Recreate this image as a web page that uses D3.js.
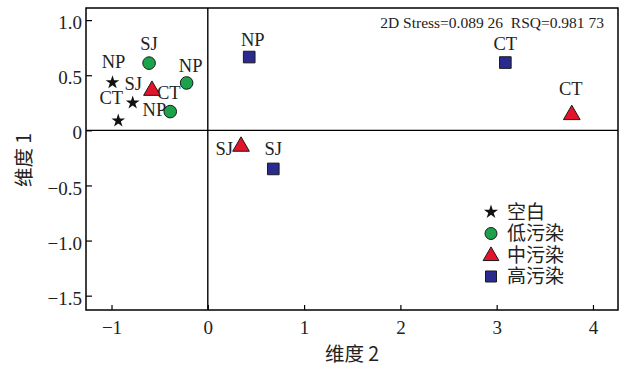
<!DOCTYPE html>
<html><head><meta charset="utf-8">
<script src="https://cdn.jsdelivr.net/npm/d3@7"></script>
<style>body{margin:0;background:#fff}svg{display:block}</style>
</head><body>
<svg id="c" width="622" height="367"></svg>
<script>
// ---- data ----
const groups = ["空白", "低污染", "中污染", "高污染"];
const blankPts = [ {label:"NP", x:-0.99, y:0.435}, {label:"SJ", x:-0.78, y:0.25}, {label:"CT", x:-0.93, y:0.087} ];
const lowPts   = [ {label:"SJ", x:-0.61, y:0.61}, {label:"NP", x:-0.22, y:0.43}, {label:"NP", x:-0.39, y:0.17} ];
const midPts   = [ {label:"CT", x:-0.58, y:0.37}, {label:"SJ", x:0.345, y:-0.137}, {label:"CT", x:3.78, y:0.15} ];
const highPts  = [ {label:"NP", x:0.43, y:0.665}, {label:"SJ", x:0.68, y:-0.35}, {label:"CT", x:3.09, y:0.615} ];
const xTicks = [-1, 0, 1, 2, 3, 4];
const xTickLabels = ["−1", "0", "1", "2", "3", "4"];
const yTicks = [1.0, 0.5, 0, -0.5, -1.0, -1.5];
const yTickLabels = ["1.0", "0.5", "0", "−0.5", "−1.0", "−1.5"];
const statsText = "2D Stress=0.089 26  RSQ=0.981 73";
const xTitle = "维度 2", yTitle = "维度 1";

// ---- layout / style ----
const L = 86, R = 618, T = 8, B = 310;
const x = d3.scaleLinear().domain([-1.265, 4.26]).range([L, R]);
const y = d3.scaleLinear().domain([-1.63, 1.11]).range([B, T]);
// label placements per point (anchor, dx, dy in px) — style, not data
const place = {
  blank: [["middle", 1, -14], ["middle", 0.5, -13], ["middle", -7, -17]],
  low:   [["middle", 0, -13.5], ["middle", 4, -11], ["end", -4, 4]],
  mid:   [["start", 5, 9], ["end", -8, 9.5], ["middle", -1, -19]],
  high:  [["middle", 3.5, -11.5], ["middle", 0, -14], ["middle", 0, -13]]
};
const serif = "'Liberation Serif', 'Times New Roman', 'DejaVu Serif', serif";
const cjk = "'Noto Sans CJK SC', 'Noto Sans', sans-serif";

const svg = d3.select("#c");

// zero lines
svg.append("line").attr("x1", x(0)).attr("x2", x(0)).attr("y1", T).attr("y2", B)
  .attr("stroke", "#000").attr("stroke-width", 1.4);
svg.append("line").attr("x1", L).attr("x2", R).attr("y1", y(0)).attr("y2", y(0))
  .attr("stroke", "#000").attr("stroke-width", 1.4);

// axes (ticks inward)
const xAxis = d3.axisBottom(x).tickValues(xTicks).tickSize(-5).tickPadding(11)
  .tickFormat((d, i) => xTickLabels[i]);
const gx = svg.append("g").attr("transform", `translate(0,${B})`).call(xAxis);
const yAxis = d3.axisLeft(y).tickValues(yTicks).tickSize(-6).tickPadding(4)
  .tickFormat((d, i) => yTickLabels[i]);
const gy = svg.append("g").attr("transform", `translate(${L},0)`).call(yAxis);
[gx, gy].forEach(g => {
  g.attr("font-family", serif).attr("font-size", 19);
  g.select(".domain").remove();
  g.selectAll(".tick line").attr("stroke", "#000").attr("stroke-width", 1.2);
  g.selectAll(".tick text").attr("fill", "#222").attr("font-family", serif).attr("font-size", 19);
});
gy.selectAll(".tick text").attr("dy", "0.45em");

// frame
svg.append("rect").attr("x", L).attr("y", T).attr("width", R - L).attr("height", B - T)
  .attr("fill", "none").attr("stroke", "#000").attr("stroke-width", 1.5);

// axis titles
svg.append("text").attr("x", (L + R) / 2).attr("y", 361).attr("text-anchor", "middle")
  .attr("font-family", cjk).attr("font-size", 19.5).attr("fill", "#222").text(xTitle);
svg.append("text").attr("transform", "translate(31,160) rotate(-90)").attr("text-anchor", "middle")
  .attr("font-family", cjk).attr("font-size", 19.5).attr("fill", "#222").text(yTitle);

// stats
svg.append("text").attr("x", 604).attr("y", 28).attr("text-anchor", "end")
  .attr("font-family", serif).attr("font-size", 15.5).attr("fill", "#222")
  .style("white-space", "pre").text(statsText);

// symbols
const sym = {
  blank: {type: d3.symbolStar, size: 58, fill: "#111", stroke: "none"},
  low:   {type: d3.symbolCircle, size: 125, fill: "#1ca24a", stroke: "#1a1a1a"},
  mid:   {type: d3.symbolTriangle, size: 120, fill: "#e3142a", stroke: "#1a1a1a"},
  high:  {type: d3.symbolSquare, size: 135, fill: "#2b2b8f", stroke: "#1a1a1a"}
};
const sets = [["blank", blankPts], ["low", lowPts], ["mid", midPts], ["high", highPts]];

sets.forEach(([k, pts]) => {
  svg.append("g").selectAll("text").data(pts).join("text")
    .attr("x", (d, i) => x(d.x) + place[k][i][1])
    .attr("y", (d, i) => y(d.y) + place[k][i][2])
    .attr("text-anchor", (d, i) => place[k][i][0])
    .attr("font-family", serif).attr("font-size", 18.5).attr("fill", "#222")
    .text(d => d.label);
});
sets.forEach(([k, pts]) => {
  const s = sym[k];
  svg.append("g").selectAll("path").data(pts).join("path")
    .attr("transform", d => `translate(${x(d.x)},${y(d.y) + (k === "mid" ? 1 : 0)})`)
    .attr("d", d3.symbol().type(s.type).size(s.size))
    .attr("fill", s.fill).attr("stroke", s.stroke).attr("stroke-width", 1);
});

// legend
const legKeys = ["blank", "low", "mid", "high"];
const lg = svg.append("g");
legKeys.forEach((k, i) => {
  const cy = 212 + i * 21.5;
  const s = sym[k];
  lg.append("path").attr("transform", `translate(491,${cy + (k === "mid" ? 1 : 0)})`)
    .attr("d", d3.symbol().type(s.type).size(k === "blank" ? 62 : s.size * 0.9))
    .attr("fill", s.fill).attr("stroke", s.stroke).attr("stroke-width", 1);
  lg.append("text").attr("x", 507).attr("y", cy).attr("dy", "0.36em")
    .attr("font-family", cjk).attr("font-size", 19).attr("fill", "#222")
    .text(groups[i]);
});
</script>
</body></html>
